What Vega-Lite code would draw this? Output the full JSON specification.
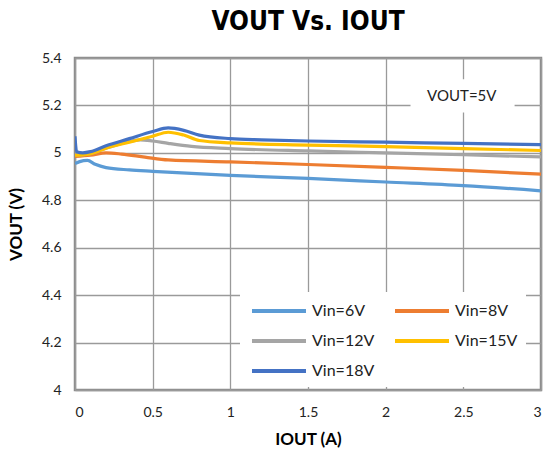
{
  "$schema": "https://vega.github.io/schema/vega-lite/v6.json",
  "autosize": "none",
  "width": 466,
  "height": 332,
  "padding": {"left": 75, "top": 58, "right": 4, "bottom": 69},
  "background": "white",
  "title": {"text": "VOUT Vs. IOUT", "font": "'Liberation Sans Narrow', 'DejaVu Sans Condensed', 'Roboto', sans-serif", "fontSize": 26, "fontWeight": "bold", "color": "black", "offset": 16, "anchor": "middle"},
  "config": {
    "view": {"stroke": "#8c8c8c", "strokeWidth": 2.5},
    "axis": {"labelFont": "Lato", "labelFontSize": 14, "labelColor": "#222", "titleFont": "Lato", "titleFontSize": 17, "titleFontWeight": "bold", "titleColor": "black", "gridColor": "#9a9a9a", "gridWidth": 1.3, "domain": false, "ticks": false, "format": "~g"}
  },
  "data": {"values": [
    {"s": "Vin=6V", "i": 0, "v": 4.955}, {"s": "Vin=6V", "i": 0.03, "v": 4.963}, {"s": "Vin=6V", "i": 0.08, "v": 4.968}, {"s": "Vin=6V", "i": 0.13, "v": 4.952}, {"s": "Vin=6V", "i": 0.2, "v": 4.938}, {"s": "Vin=6V", "i": 0.35, "v": 4.928}, {"s": "Vin=6V", "i": 0.5, "v": 4.922}, {"s": "Vin=6V", "i": 1.0, "v": 4.905}, {"s": "Vin=6V", "i": 1.5, "v": 4.892}, {"s": "Vin=6V", "i": 2.0, "v": 4.877}, {"s": "Vin=6V", "i": 2.5, "v": 4.862}, {"s": "Vin=6V", "i": 3.0, "v": 4.84},
    {"s": "Vin=8V", "i": 0, "v": 4.985}, {"s": "Vin=8V", "i": 0.1, "v": 4.99}, {"s": "Vin=8V", "i": 0.2, "v": 5.0}, {"s": "Vin=8V", "i": 0.3, "v": 4.995}, {"s": "Vin=8V", "i": 0.45, "v": 4.982}, {"s": "Vin=8V", "i": 0.6, "v": 4.97}, {"s": "Vin=8V", "i": 1.0, "v": 4.962}, {"s": "Vin=8V", "i": 1.5, "v": 4.951}, {"s": "Vin=8V", "i": 2.0, "v": 4.939}, {"s": "Vin=8V", "i": 2.5, "v": 4.926}, {"s": "Vin=8V", "i": 3.0, "v": 4.91},
    {"s": "Vin=12V", "i": 0, "v": 4.99}, {"s": "Vin=12V", "i": 0.1, "v": 4.997}, {"s": "Vin=12V", "i": 0.2, "v": 5.02}, {"s": "Vin=12V", "i": 0.3, "v": 5.04}, {"s": "Vin=12V", "i": 0.42, "v": 5.055}, {"s": "Vin=12V", "i": 0.5, "v": 5.05}, {"s": "Vin=12V", "i": 0.6, "v": 5.04}, {"s": "Vin=12V", "i": 0.75, "v": 5.027}, {"s": "Vin=12V", "i": 1.0, "v": 5.018}, {"s": "Vin=12V", "i": 1.5, "v": 5.008}, {"s": "Vin=12V", "i": 2.0, "v": 5.0}, {"s": "Vin=12V", "i": 2.5, "v": 4.992}, {"s": "Vin=12V", "i": 3.0, "v": 4.983},
    {"s": "Vin=15V", "i": 0, "v": 4.99}, {"s": "Vin=15V", "i": 0.1, "v": 4.997}, {"s": "Vin=15V", "i": 0.2, "v": 5.02}, {"s": "Vin=15V", "i": 0.35, "v": 5.045}, {"s": "Vin=15V", "i": 0.5, "v": 5.07}, {"s": "Vin=15V", "i": 0.6, "v": 5.087}, {"s": "Vin=15V", "i": 0.7, "v": 5.075}, {"s": "Vin=15V", "i": 0.8, "v": 5.052}, {"s": "Vin=15V", "i": 1.0, "v": 5.042}, {"s": "Vin=15V", "i": 1.5, "v": 5.033}, {"s": "Vin=15V", "i": 2.0, "v": 5.026}, {"s": "Vin=15V", "i": 2.5, "v": 5.018}, {"s": "Vin=15V", "i": 3.0, "v": 5.01},
    {"s": "Vin=18V", "i": 0, "v": 5.07}, {"s": "Vin=18V", "i": 0.01, "v": 5.005}, {"s": "Vin=18V", "i": 0.05, "v": 5.0}, {"s": "Vin=18V", "i": 0.1, "v": 5.005}, {"s": "Vin=18V", "i": 0.2, "v": 5.03}, {"s": "Vin=18V", "i": 0.35, "v": 5.06}, {"s": "Vin=18V", "i": 0.5, "v": 5.09}, {"s": "Vin=18V", "i": 0.6, "v": 5.105}, {"s": "Vin=18V", "i": 0.7, "v": 5.095}, {"s": "Vin=18V", "i": 0.8, "v": 5.075}, {"s": "Vin=18V", "i": 1.0, "v": 5.06}, {"s": "Vin=18V", "i": 1.2, "v": 5.055}, {"s": "Vin=18V", "i": 1.5, "v": 5.05}, {"s": "Vin=18V", "i": 2.0, "v": 5.045}, {"s": "Vin=18V", "i": 2.5, "v": 5.04}, {"s": "Vin=18V", "i": 3.0, "v": 5.035}
  ]},
  "layer": [
    {
      "mark": {"type": "line", "strokeWidth": 3.2, "interpolate": "monotone", "clip": true},
      "encoding": {
        "x": {"field": "i", "type": "quantitative", "scale": {"domain": [0, 3], "nice": false}, "axis": {"title": "IOUT (A)", "values": [0, 0.5, 1, 1.5, 2, 2.5, 3], "labelPadding": 15, "titlePadding": 12}},
        "y": {"field": "v", "type": "quantitative", "scale": {"domain": [4, 5.4], "nice": false, "zero": false}, "axis": {"title": "VOUT (V)", "values": [4, 4.2, 4.4, 4.6, 4.8, 5, 5.2, 5.4], "labelPadding": 14, "titlePadding": 16}},
        "color": {"field": "s", "type": "nominal", "scale": {"domain": ["Vin=6V", "Vin=8V", "Vin=12V", "Vin=15V", "Vin=18V"], "range": ["#5B9BD5", "#ED7D31", "#A5A5A5", "#FFC000", "#4472C4"]},
          "legend": {"title": null, "orient": "none", "direction": "horizontal", "legendX": 165, "legendY": 234, "columns": 2, "fillColor": "white", "padding": 8, "symbolType": "M-3,0H3", "symbolSize": 324, "symbolOffset": 20, "labelOffset": 22, "symbolStrokeWidth": 4, "labelFont": "Lato", "labelFontSize": 16, "labelColor": "#222", "columnPadding": 12, "rowPadding": 11, "labelLimit": 200}}
      }
    },
    {
      "data": {"values": [{}]},
      "mark": {"type": "rect", "fill": "white"},
      "encoding": {"x": {"datum": 2.16}, "x2": {"datum": 2.83}, "y": {"datum": 5.31}, "y2": {"datum": 5.17}}
    },
    {
      "data": {"values": [{}]},
      "mark": {"type": "text", "text": "VOUT=5V", "font": "Lato", "fontSize": 15, "color": "#222", "align": "center", "baseline": "middle"},
      "encoding": {"x": {"datum": 2.49}, "y": {"datum": 5.238}}
    }
  ]
}
